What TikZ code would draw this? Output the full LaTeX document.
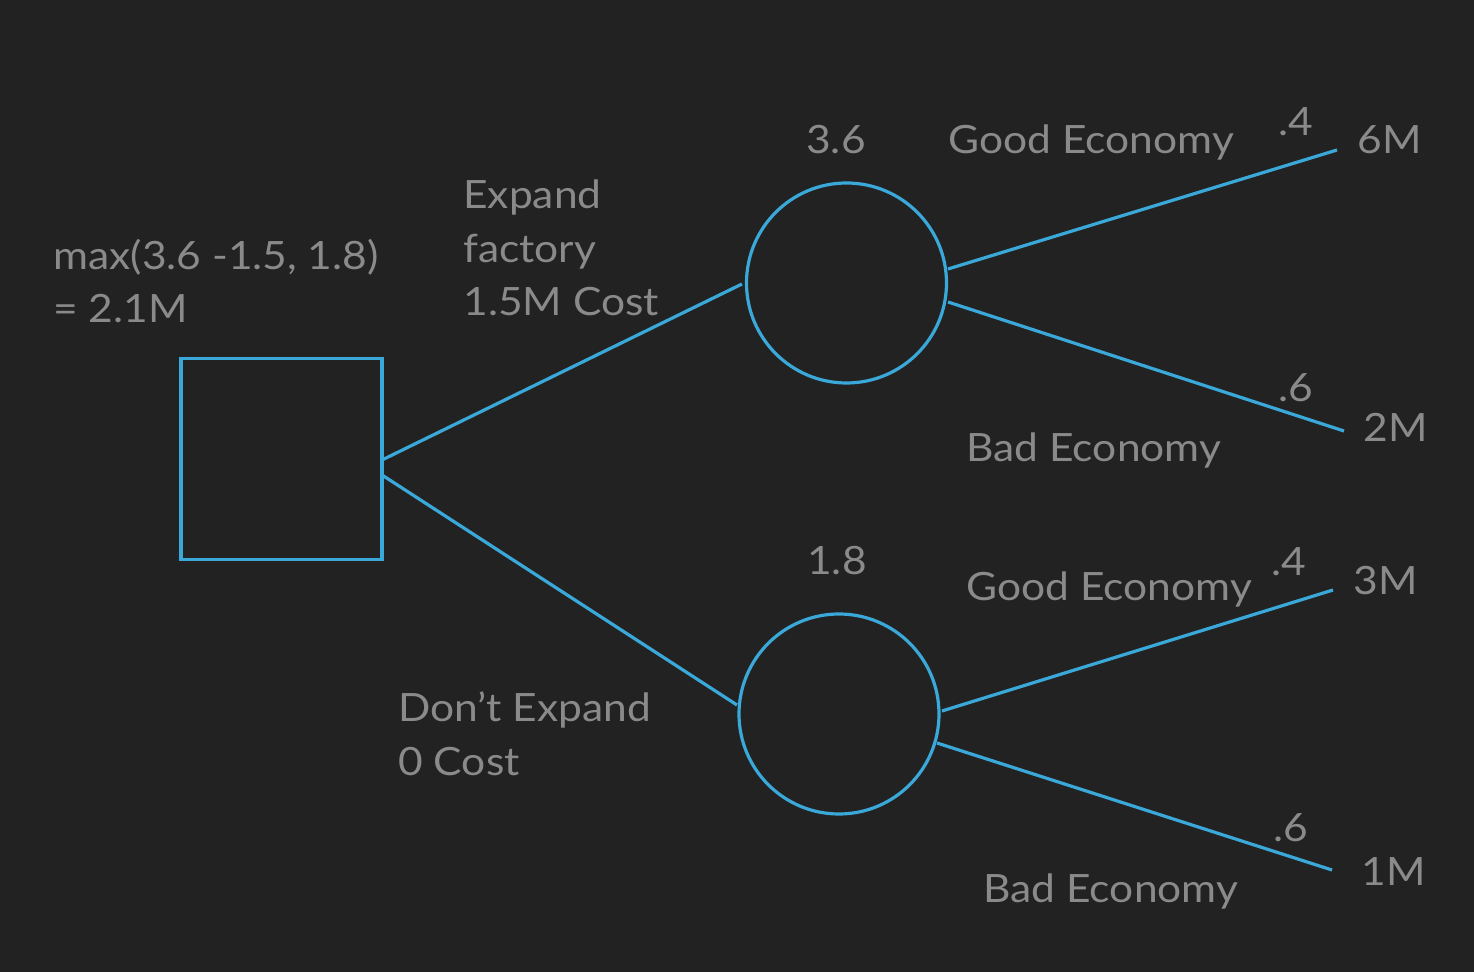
\documentclass[tikz,border=0pt]{standalone}
\usepackage{fontspec}
\setmainfont{Lato}[FakeStretch=1.09]
\definecolor{bg}{HTML}{222222}
\definecolor{txt}{HTML}{8A8A8A}
\definecolor{ln}{HTML}{3AA8D8}
\begin{document}
\begin{tikzpicture}[x=0.5pt,y=-0.5pt,
  lbl/.style={text=txt,inner sep=0pt,anchor=base west,font=\fontsize{19.5}{24}\selectfont},
  clbl/.style={text=txt,inner sep=0pt,anchor=base,font=\fontsize{19.5}{24}\selectfont},
  conn/.style={draw=ln,line width=1.6pt},
  decision/.style={draw=ln,line width=1.6pt,minimum size=100.5pt,inner sep=0pt,rectangle},
  chance/.style={draw=ln,line width=1.6pt,minimum size=100pt,inner sep=0pt,circle}]
\fill[bg] (0,0) rectangle (1474,972);
\useasboundingbox (0,0) rectangle (1474,972);
% nodes
\node[decision] (sq) at (281.5,459) {};
\node[chance] (c1) at (846.5,283) {};
\node[chance] (c2) at (839,714) {};
% endpoints
\coordinate (s1) at (382,460);
\coordinate (s2) at (382,475);
\coordinate (e1) at (742,284);
\coordinate (e2) at (737,705);
\coordinate (a1) at (948,269);
\coordinate (a2) at (948,302);
\coordinate (t1) at (1337,150);
\coordinate (t2) at (1344,431);
\coordinate (b1) at (942,711);
\coordinate (b2) at (937,743);
\coordinate (u1) at (1333,590);
\coordinate (u2) at (1332,870);
\draw[conn] (s1) -- (e1);
\draw[conn] (s2) -- (e2);
\draw[conn] (a1) -- (t1);
\draw[conn] (a2) -- (t2);
\draw[conn] (b1) -- (u1);
\draw[conn] (b2) -- (u2);
% texts
\node[lbl] (m1) at (53,270) {max(3.6 -1.5, 1.8)};
\node[lbl] (m2) at (53,323) {= 2.1M};
\node[lbl] (x1) at (463,209) {Expand};
\node[lbl] (x2) at (463,263) {factory};
\node[lbl] (x3) at (463,316) {1.5M Cost};
\node[lbl] (d1) at (398,722) {Don’t Expand};
\node[lbl] (d2) at (398,776) {0 Cost};
\node[clbl] (v1) at (836,154) {3.6};
\node[clbl] (v2) at (837,575) {1.8};
\node[lbl] (g1) at (948,154) {Good Economy};
\node[lbl] (bb1) at (966,462) {Bad Economy};
\node[lbl] (g2) at (966,601) {Good Economy};
\node[lbl] (bb2) at (983,903) {Bad Economy};
\node[clbl] (p1) at (1296,136) {.4};
\node[clbl] (p2) at (1296,402) {.6};
\node[clbl] (p3) at (1289,576) {.4};
\node[clbl] (p4) at (1291,842) {.6};
\node[lbl] (r1) at (1357,154) {6M};
\node[lbl] (r2) at (1363,442) {2M};
\node[lbl] (r3) at (1353,595) {3M};
\node[lbl] (r4) at (1361,885) {1M};
\end{tikzpicture}
\end{document}
